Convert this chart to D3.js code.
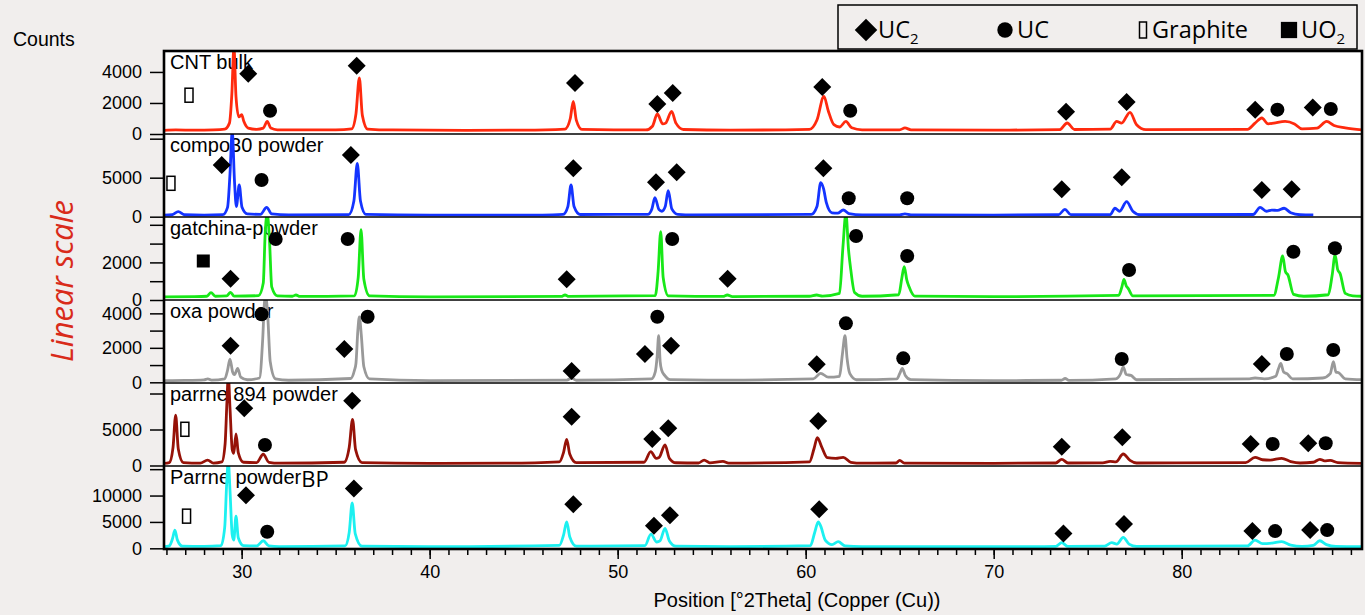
<!DOCTYPE html>
<html>
<head>
<meta charset="utf-8">
<script src="https://cdn.jsdelivr.net/npm/d3@7"></script>
<style>
  body { margin: 0; background: #f1eeed; }
  svg { display: block; }
</style>
</head>
<body>
<svg width="1365" height="615"></svg>
<script>
// sample names, top to bottom
const sampleNames = ['CNT bulk', 'compo30 powder', 'gatchina-powder', 'oxa powder', 'parrne 894 powder', 'Parrne powder'];
const lineColors = ['#ff2a0e', '#1434ff', '#18e818', '#999999', '#961208', '#1cf0f0'];

// y range of each panel (counts at bottom, counts at top)
const yDomains = [[0, 5350], [-40, 10600], [0, 4415], [-40, 4775], [-70, 11460], [-130, 15600]];
const yTicks = [
  [0, 2000, 4000],
  [0, 5000, 10000],
  [0, 1000, 2000, 3000, 4000],
  [0, 1000, 2000, 3000, 4000],
  [0, 5000, 10000],
  [0, 5000, 10000, 15000]
];
const yLabels = [
  [0, 2000, 4000],
  [0, 5000],
  [0, 2000],
  [0, 2000, 4000],
  [0, 5000],
  [0, 5000, 10000]
];
const xMajor = [30, 40, 50, 60, 70, 80];

// diffraction patterns [2theta, counts]
const cntBulk = [
  [25.87, 230], [26.5, 260], [27.5, 250], [28.5, 270], [29.1, 320], [29.35, 700], [29.48, 2600], [29.59, 5600],
  [29.7, 2400], [29.85, 1100], [30.0, 1250], [30.12, 800], [30.35, 380], [30.8, 300], [31.15, 380], [31.36, 810],
  [31.55, 380], [31.9, 270], [33, 260], [35, 270], [35.85, 330], [36.08, 1300], [36.26, 3610], [36.42, 1200],
  [36.7, 320], [38, 260], [42, 240], [45, 250], [47.2, 320], [47.48, 1000], [47.64, 2100], [47.8, 900], [48.1, 300],
  [51.5, 260], [51.85, 500], [52.11, 1290], [52.4, 650], [52.55, 700], [52.87, 1460], [53.1, 700], [53.5, 290],
  [56, 250], [60.2, 300], [60.6, 900], [60.97, 2425], [61.2, 1500], [61.5, 600], [61.8, 450], [62.14, 810],
  [62.45, 400], [63, 270], [65.0, 270], [65.28, 390], [65.6, 270], [70, 250], [73.5, 280], [73.91, 710], [74.3, 290],
  [76.2, 320], [76.54, 810], [76.8, 700], [77.25, 1400], [77.6, 600], [78.1, 280], [83.5, 300], [83.9, 700],
  [84.26, 1030], [84.6, 650], [84.9, 700], [85.5, 810], [86.0, 650], [86.4, 330], [87.2, 380], [87.71, 810],
  [88.1, 550], [88.7, 400], [89.59, 270]
];
const compo30 = [
  [25.87, 200], [26.3, 250], [26.63, 640], [26.95, 250], [28.0, 200], [29.0, 260], [29.25, 1200], [29.38, 5500],
  [29.5, 11000], [29.62, 4500], [29.72, 1300], [29.87, 4060], [30.02, 1200], [30.3, 350], [31.0, 300], [31.33, 1200],
  [31.6, 350], [32.5, 220], [35.7, 260], [35.97, 2000], [36.15, 6840], [36.32, 2000], [36.6, 300], [40, 200],
  [46, 210], [47.1, 300], [47.35, 1300], [47.52, 4060], [47.68, 1300], [48.0, 280], [51.6, 300], [51.82, 1000],
  [51.98, 2440], [52.2, 900], [52.35, 700], [52.53, 1300], [52.69, 3330], [52.88, 1000], [53.2, 300], [54, 230],
  [60.3, 300], [60.6, 1300], [60.8, 4360], [60.95, 3600], [61.1, 1800], [61.4, 500], [61.7, 450], [62.0, 860],
  [62.3, 400], [63, 230], [65.0, 230], [65.28, 350], [65.6, 230], [70, 210], [73.45, 250], [73.79, 950], [74.1, 260],
  [76.2, 280], [76.45, 1080], [76.7, 700], [77.07, 1920], [77.4, 700], [77.8, 250], [83.8, 280], [84.17, 1200],
  [84.5, 700], [84.8, 850], [85.1, 800], [85.45, 1080], [85.8, 500], [86.3, 250], [87.0, 220]
];
const gatchina = [
  [25.87, 170], [27.5, 180], [28.15, 200], [28.37, 390], [28.6, 200], [29.2, 220], [29.41, 410], [29.6, 210],
  [30.9, 230], [31.15, 900], [31.25, 3500], [31.36, 4600], [31.48, 3200], [31.6, 700], [31.9, 220], [32.7, 200],
  [32.89, 265], [33.1, 190], [36.0, 220], [36.2, 1200], [36.35, 3740], [36.5, 1100], [36.8, 220], [40, 170],
  [47.0, 190], [47.2, 265], [47.4, 190], [52.0, 230], [52.15, 1500], [52.29, 3640], [52.42, 1200], [52.7, 220],
  [55.6, 190], [55.83, 265], [56.1, 180], [60.2, 200], [60.58, 265], [60.9, 210], [61.8, 350], [61.98, 2800],
  [62.14, 4600], [62.28, 2660], [62.4, 1600], [62.6, 400], [63.0, 200], [64.95, 280], [65.12, 1200], [65.24, 1770],
  [65.38, 1060], [65.5, 700], [65.8, 210], [70, 180], [76.65, 250], [76.82, 700], [76.93, 1100], [77.05, 750],
  [77.15, 620], [77.4, 220], [84.9, 250], [85.15, 1200], [85.37, 2340], [85.52, 1500], [85.65, 1330], [85.95, 300],
  [86.5, 200], [87.8, 280], [88.0, 1300], [88.16, 2400], [88.3, 1600], [88.42, 1420], [88.7, 350], [89.1, 220],
  [89.59, 200]
];
const oxa = [
  [25.87, 100], [27, 110], [28.0, 140], [28.2, 200], [28.4, 130], [29.1, 200], [29.25, 700], [29.38, 1350],
  [29.52, 600], [29.62, 450], [29.79, 810], [29.95, 300], [30.3, 150], [30.95, 250], [31.12, 2500], [31.22, 4700],
  [31.29, 4900], [31.38, 4000], [31.52, 1200], [31.8, 200], [32.5, 120], [35.8, 220], [36.0, 700], [36.08, 1100],
  [36.18, 3000], [36.26, 3800], [36.36, 2800], [36.5, 900], [36.8, 200], [40, 100], [47.3, 130], [47.55, 250],
  [47.8, 120], [51.8, 200], [52.0, 600], [52.1, 1500], [52.18, 2700], [52.26, 1200], [52.34, 710], [52.5, 400],
  [52.8, 150], [55.6, 130], [60.4, 200], [60.8, 520], [61.2, 300], [61.8, 350], [61.95, 1600], [62.09, 2700],
  [62.2, 1400], [62.35, 500], [62.7, 150], [64.85, 200], [65.0, 500], [65.14, 810], [65.3, 400], [65.6, 150],
  [70, 100], [73.6, 120], [73.8, 220], [74.0, 110], [76.5, 200], [76.75, 500], [76.89, 900], [77.05, 450],
  [77.3, 400], [77.6, 150], [83.6, 200], [83.9, 250], [84.4, 200], [85.0, 350], [85.15, 800], [85.27, 1100],
  [85.42, 600], [85.6, 500], [85.9, 200], [87.5, 250], [87.9, 500], [88.07, 1200], [88.2, 600], [88.35, 550],
  [88.7, 200], [89.59, 150]
];
const parrne1894 = [
  [25.87, 300], [26.15, 400], [26.35, 2500], [26.49, 7000], [26.63, 2300], [26.9, 400], [27.8, 320], [28.19, 760],
  [28.5, 340], [28.95, 500], [29.12, 3000], [29.22, 9000], [29.29, 12500], [29.38, 8000], [29.5, 2200], [29.58, 1700],
  [29.7, 4380], [29.82, 1800], [30.1, 450], [30.8, 400], [31.15, 1560], [31.45, 450], [32, 320], [35.45, 450],
  [35.72, 2500], [35.9, 6400], [36.06, 2200], [36.4, 400], [40, 300], [44, 320], [46.9, 500], [47.12, 1800],
  [47.29, 3640], [47.45, 1600], [47.8, 400], [51.4, 450], [51.76, 1920], [52.05, 1000], [52.2, 1100], [52.52, 2850],
  [52.75, 1000], [53.1, 380], [54.3, 350], [54.6, 760], [54.9, 360], [55.6, 560], [55.9, 320], [60.2, 500],
  [60.45, 2400], [60.62, 3860], [60.85, 2600], [61.15, 1100], [61.6, 1000], [62.0, 1140], [62.4, 450], [63, 320],
  [64.8, 350], [65.0, 700], [65.25, 330], [70, 300], [73.3, 350], [73.62, 860], [73.95, 350], [75.8, 360],
  [76.19, 560], [76.5, 500], [76.89, 1600], [77.25, 700], [77.6, 350], [83.4, 400], [83.9, 1140], [84.3, 800],
  [84.7, 750], [85.32, 1000], [85.8, 550], [86.3, 350], [87.0, 450], [87.35, 860], [87.6, 650], [87.9, 700],
  [88.3, 400], [89.59, 300]
];
const parrneBP = [
  [25.87, 300], [26.15, 450], [26.32, 1800], [26.45, 3450], [26.58, 1600], [26.85, 400], [28.0, 350], [28.9, 500],
  [29.1, 4000], [29.2, 12000], [29.29, 16500], [29.38, 11000], [29.5, 2500], [29.58, 1570], [29.7, 6100],
  [29.82, 2000], [30.1, 500], [30.8, 450], [31.15, 1430], [31.45, 450], [32, 320], [35.5, 450], [35.72, 3000],
  [35.88, 8600], [36.04, 2800], [36.4, 400], [40, 300], [46.9, 550], [47.12, 2500], [47.29, 5020], [47.45, 2200],
  [47.8, 400], [51.45, 500], [51.77, 2700], [52.08, 1200], [52.25, 1400], [52.52, 3770], [52.75, 1400], [53.1, 400],
  [56, 320], [60.25, 500], [60.48, 3000], [60.67, 5020], [60.8, 4200], [61.05, 1500], [61.4, 700], [61.73, 1250],
  [62.1, 450], [63, 330], [70, 300], [73.3, 350], [73.62, 1060], [73.95, 350], [75.9, 400], [76.28, 1060],
  [76.55, 800], [76.89, 2070], [77.2, 800], [77.6, 350], [83.5, 450], [83.9, 1570], [84.3, 900], [84.8, 1000],
  [85.32, 1250], [85.8, 600], [86.4, 350], [87.0, 550], [87.34, 1430], [87.7, 700], [88.2, 350], [89.59, 300]
];
const patterns = [cntBulk, compo30, gatchina, oxa, parrne1894, parrneBP];

// phase markers [2theta, counts, phase]  d = UC2, c = UC, g = graphite, s = UO2
const marksCnt = [
  [27.20, 2500, 'g'], [30.35, 3890, 'd'], [31.51, 1500, 'c'], [36.12, 4405, 'd'], [47.73, 3290, 'd'],
  [52.11, 1935, 'd'], [52.93, 2645, 'd'], [60.88, 3030, 'd'], [62.37, 1500, 'c'], [73.85, 1440, 'd'],
  [77.07, 2065, 'd'], [83.91, 1570, 'd'], [85.09, 1570, 'c'], [86.97, 1715, 'd'], [87.93, 1610, 'c']
];
const marksCompo = [
  [26.24, 4280, 'g'], [28.94, 6630, 'd'], [31.06, 4700, 'c'], [35.81, 7910, 'd'], [47.64, 6205, 'd'],
  [52.04, 4410, 'd'], [53.14, 5690, 'd'], [60.94, 6205, 'd'], [62.29, 2360, 'c'], [65.40, 2360, 'c'],
  [73.62, 3510, 'd'], [76.81, 5050, 'd'], [84.26, 3420, 'd'], [85.85, 3510, 'd']
];
const marksGatchina = [
  [27.96, 2075, 's'], [29.41, 1135, 'd'], [31.81, 3245, 'c'], [35.64, 3245, 'c'], [47.29, 1100, 'd'],
  [52.90, 3245, 'c'], [55.85, 1135, 'd'], [62.68, 3405, 'c'], [65.40, 2340, 'c'], [77.20, 1595, 'c'],
  [85.94, 2570, 'c'], [88.15, 2750, 'c']
];
const marksOxa = [
  [29.41, 2120, 'd'], [31.06, 3945, 'c'], [35.46, 1930, 'd'], [36.70, 3805, 'c'], [47.55, 655, 'd'],
  [51.45, 1640, 'd'], [52.11, 3805, 'c'], [52.84, 2120, 'd'], [60.59, 1045, 'd'], [62.14, 3420, 'c'],
  [65.19, 1390, 'c'], [76.81, 1350, 'c'], [84.26, 1060, 'd'], [85.59, 1640, 'c'], [88.06, 1875, 'c']
];
const marksParrne1894 = [
  [26.98, 5030, 'g'], [30.14, 7945, 'd'], [31.24, 2850, 'c'], [35.88, 9000, 'd'], [47.55, 6780, 'd'],
  [51.84, 3680, 'd'], [52.69, 5170, 'd'], [60.67, 6180, 'd'], [73.62, 2610, 'd'], [76.84, 3915, 'd'],
  [83.67, 2985, 'd'], [84.84, 2985, 'c'], [86.73, 3085, 'd'], [87.66, 3085, 'c']
];
const marksParrneBP = [
  [27.07, 6095, 'g'], [30.23, 10060, 'd'], [31.36, 3130, 'c'], [35.97, 11320, 'd'], [47.64, 8360, 'd'],
  [51.93, 4265, 'd'], [52.78, 6285, 'd'], [60.72, 7415, 'd'], [73.71, 2830, 'd'], [76.93, 4585, 'd'],
  [83.76, 3265, 'd'], [84.97, 3265, 'c'], [86.83, 3455, 'd'], [87.74, 3455, 'c']
];
const phaseMarks = [marksCnt, marksCompo, marksGatchina, marksOxa, marksParrne1894, marksParrneBP];

const legendItems = [['d', 'UC', '2'], ['c', 'UC', ''], ['g', 'Graphite', ''], ['s', 'UO', '2']];

// ---------------------------------------------------------------
const svg = d3.select('svg');
const plotLeft = 164, plotRight = 1362, plotTop = 51, panelH = 83;
const plotBottom = plotTop + panelH * patterns.length;
const font = "'Liberation Sans', Arial, sans-serif";

const x = d3.scaleLinear().domain([25.87, 89.59]).range([plotLeft, plotRight]);

svg.append('rect').attr('x', plotLeft).attr('y', plotTop)
  .attr('width', plotRight - plotLeft).attr('height', plotBottom - plotTop).attr('fill', '#fff');

const defs = svg.append('defs');

function drawMark(g, type, cx, cy, big) {
  const k = big ? 1.25 : 1;
  if (type === 'd') {
    g.append('path').attr('d', d3.symbol(d3.symbolSquare, 162 * k * k)())
      .attr('transform', `translate(${cx},${cy}) rotate(45)`).attr('fill', '#000');
  } else if (type === 'c') {
    g.append('circle').attr('cx', cx).attr('cy', cy).attr('r', 7 * (big ? 1.1 : 1)).attr('fill', '#000');
  } else if (type === 's') {
    const s = 13 * k;
    g.append('rect').attr('x', cx - s / 2).attr('y', cy - s / 2).attr('width', s).attr('height', s).attr('fill', '#000');
  } else {
    const w = big ? 7 : 8, h = big ? 16 : 14;
    g.append('rect').attr('x', cx - w / 2).attr('y', cy - h / 2).attr('width', w).attr('height', h)
      .attr('fill', 'none').attr('stroke', '#000').attr('stroke-width', 1.5);
  }
}

patterns.forEach((pts, i) => {
  const pTop = plotTop + i * panelH, pBot = pTop + panelH;
  const y = d3.scaleLinear().domain(yDomains[i]).range([pBot, pTop]);

  defs.append('clipPath').attr('id', 'clip' + i)
    .append('rect').attr('x', plotLeft).attr('y', pTop).attr('width', plotRight - plotLeft).attr('height', panelH);

  // y axis of the panel
  const ax = svg.append('g').attr('transform', `translate(${plotLeft},0)`)
    .call(d3.axisLeft(y).tickValues(yTicks[i]).tickSize(14).tickPadding(8)
      .tickFormat(d => yLabels[i].includes(d) ? d : ''));
  ax.select('.domain').remove();
  ax.selectAll('line').attr('stroke', '#000').attr('stroke-width', 1.5);
  ax.selectAll('text').attr('font-family', font).attr('font-size', 18).attr('fill', '#000');

  // sample label
  const lab = svg.append('text').attr('x', 170).attr('y', pTop + 18)
    .attr('font-family', font).attr('font-size', 20).attr('fill', '#000').text(sampleNames[i]);
  if (i === 5) {
    lab.append('tspan').attr('font-family', "'Open Sans', sans-serif").attr('font-size', 22).attr('dy', 3).text('BP');
  }

  const line = d3.line().x(d => x(d[0])).y(d => y(d[1])).curve(d3.curveMonotoneX);
  svg.append('path').datum(pts).attr('d', line)
    .attr('clip-path', `url(#clip${i})`)
    .attr('fill', 'none').attr('stroke', lineColors[i]).attr('stroke-width', 2.8)
    .attr('stroke-linejoin', 'round');

  const mg = svg.append('g');
  phaseMarks[i].forEach(m => drawMark(mg, m[2], x(m[0]), y(m[1]), false));

  if (i > 0) {
    svg.append('line').attr('x1', plotLeft).attr('x2', plotRight).attr('y1', pTop).attr('y2', pTop)
      .attr('stroke', '#000').attr('stroke-width', 1.3);
  }
});

// frame
svg.append('rect').attr('x', plotLeft).attr('y', plotTop)
  .attr('width', plotRight - plotLeft).attr('height', plotBottom - plotTop)
  .attr('fill', 'none').attr('stroke', '#000').attr('stroke-width', 2.6);

// x axis
const xMinor = svg.append('g').attr('transform', `translate(0,${plotBottom})`)
  .call(d3.axisBottom(x).tickValues(d3.range(26, 90)).tickSize(6).tickFormat(''));
const xMaj = svg.append('g').attr('transform', `translate(0,${plotBottom})`)
  .call(d3.axisBottom(x).tickValues(xMajor).tickSize(10).tickPadding(6));
[xMinor, xMaj].forEach(g => {
  g.select('.domain').remove();
  g.selectAll('line').attr('stroke', '#000').attr('stroke-width', 1.5);
  g.selectAll('text').attr('font-family', font).attr('font-size', 18).attr('fill', '#000');
});

svg.append('text').attr('x', 797).attr('y', 607).attr('text-anchor', 'middle')
  .attr('font-family', font).attr('font-size', 20).attr('fill', '#000')
  .text('Position [°2Theta] (Copper (Cu))');

svg.append('text').attr('x', 13).attr('y', 46)
  .attr('font-family', font).attr('font-size', 19.5).attr('fill', '#000').text('Counts');

svg.append('text').attr('transform', 'translate(73,281) rotate(-90)').attr('text-anchor', 'middle')
  .attr('font-family', "'Open Sans', sans-serif").attr('font-style', 'italic').attr('font-size', 31)
  .attr('fill', '#d92b1a').text('Linear scale');

// legend
const lg = svg.append('g');
lg.append('rect').attr('x', 838).attr('y', 5).attr('width', 519).attr('height', 44)
  .attr('fill', 'none').attr('stroke', '#000').attr('stroke-width', 1.5);
const legX = [866, 1005, 1143, 1289];
legendItems.forEach((it, j) => {
  drawMark(lg, it[0], legX[j], 30, true);
  const t = lg.append('text').attr('x', legX[j] + (it[0] === 'g' ? 9 : 12)).attr('y', 38)
    .attr('font-family', "'Open Sans', sans-serif").attr('font-size', 23.5).attr('fill', '#000').text(it[1]);
  if (it[2]) t.append('tspan').attr('font-size', 15).attr('dy', 6).text(it[2]);
});
</script>
</body>
</html>
